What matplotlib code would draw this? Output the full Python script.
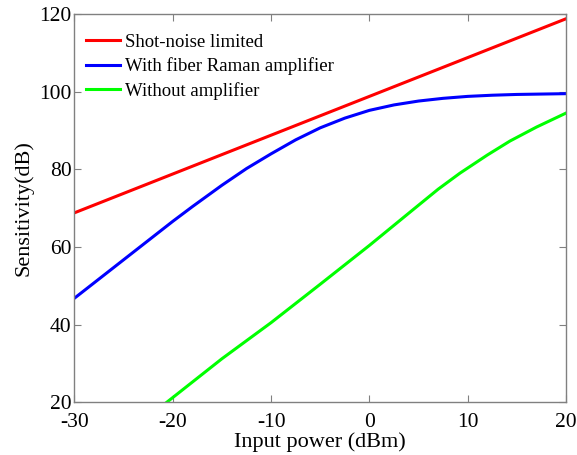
import matplotlib
matplotlib.use("Agg")
import matplotlib.pyplot as plt

plt.rcParams['font.family'] = ['Liberation Serif', 'DejaVu Serif']
plt.rcParams['axes.unicode_minus'] = False

power_shot = [-30, -20, -10, 0, 10, 20]
shot_noise = [68.8, 78.8, 88.8, 98.8, 108.8, 118.8]

power_raman = [-30, -25, -20, -18, -15, -12.5, -10, -7.5, -5, -2.5, 0, 2.5, 5, 7.5, 10, 12.5, 15, 17.5, 20]
with_raman = [46.8, 56.7, 66.6, 70.4, 75.9, 80.2, 84.0, 87.6, 90.7, 93.2, 95.2, 96.6, 97.6, 98.3, 98.8, 99.1, 99.3, 99.4, 99.5]

power_noamp = [-20.6, -15, -10, -5, 0, 4, 7, 9.2, 12, 14.3, 17, 20]
without_amp = [20.0, 31.2, 40.5, 50.4, 60.4, 68.7, 74.9, 79.0, 83.7, 87.3, 90.9, 94.5]

fig = plt.figure(figsize=(5.77, 4.55), dpi=100)
ax = fig.add_axes([0.129, 0.116, 0.852, 0.853])

ax.plot(power_shot, shot_noise, color='#ff0000', lw=2.2, label='Shot-noise limited')
ax.plot(power_raman, with_raman, color='#0000ff', lw=2.2, label='With fiber Raman amplifier')
ax.plot(power_noamp, without_amp, color='#00ff00', lw=2.2, label='Without amplifier')

ax.set_xlim(-30, 20)
ax.set_ylim(20, 120)
ax.set_xticks([-30, -20, -10, 0, 10, 20])
ax.set_yticks([20, 40, 60, 80, 100, 120])
ax.tick_params(direction='in', length=5, width=0.8, color='#808080',
               top=True, right=True, labelsize=15.5)
ax.tick_params(axis='x', pad=8)
ax.tick_params(axis='y', pad=2)
for s in ax.spines.values():
    s.set_color('#808080')
    s.set_linewidth(1.0)

ax.set_xlabel('Input power (dBm)', fontsize=16, labelpad=0)
ax.set_ylabel('Sensitivity(dB)', fontsize=16)
ax.yaxis.set_label_coords(-0.084, 0.5)

ax.legend(loc='upper left', bbox_to_anchor=(0.024, 0.950), frameon=False,
          fontsize=13.5, handlelength=1.78, handletextpad=0.27,
          labelspacing=0.36, borderaxespad=0, borderpad=0)

fig.savefig('out.png', dpi=100)
